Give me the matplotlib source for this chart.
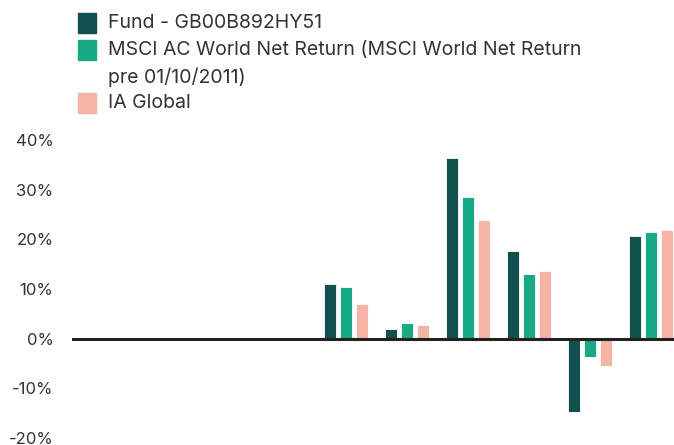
import numpy as np
import matplotlib.pyplot as plt
from matplotlib.patches import Rectangle

# annual returns (%) - the first four periods have no data
periods = list(range(10))
fund = [np.nan, np.nan, np.nan, np.nan, 11.1, 1.9, 36.4, 17.6, -14.7, 20.6]
msci = [np.nan, np.nan, np.nan, np.nan, 10.4, 3.2, 28.5, 13.0, -3.7, 21.5]
ia_global = [np.nan, np.nan, np.nan, np.nan, 6.9, 2.7, 23.8, 13.7, -5.6, 21.9]

labels = ["Fund - GB00B892HY51",
          "MSCI AC World Net Return (MSCI World Net Return\npre 01/10/2011)",
          "IA Global"]
colors = ["#124f4f", "#17aa85", "#f6b4a6"]
yticks = [-20, -10, 0, 10, 20, 30, 40]

plt.rcParams['font.family'] = ['Inter', 'DejaVu Sans']
W, H = 674, 445
fig = plt.figure(figsize=(W / 100, H / 100), dpi=100)
ax = fig.add_axes([71.5 / W, 7 / H, 610 / W, 298 / H])

x = np.arange(len(periods))
step = 16 / 61
bw = 12 / 61
for i, (vals, c) in enumerate(zip([fund, msci, ia_global], colors)):
    ax.bar(x + (i - 1) * step, vals, width=bw, color=c,
           edgecolor='white', linewidth=0.6, zorder=2)

ax.axhline(0, color='#222222', linewidth=2.2, zorder=3)
ax.set_xlim(-0.5, len(periods) - 0.5)
ax.set_ylim(-20, 40)
ax.set_yticks(yticks)
ax.set_yticklabels([f"{v}%" for v in yticks], fontsize=12, color='#333333')
ax.tick_params(axis='y', length=0, pad=13)
ax.set_xticks([])
for s in ax.spines.values():
    s.set_visible(False)

# legend drawn by hand (square aligned with first line of each label)
rows = [23, 50, 103]
for lab, c, yc in zip(labels, colors, rows):
    fig.patches.append(Rectangle((78 / W, 1 - (yc + 10) / H), 18 / W, 20 / H,
                                 transform=fig.transFigure, color=c))
    for k, line in enumerate(lab.split("\n")):
        fig.text(108 / W, 1 - (yc + k * 27) / H, line, fontsize=14,
                 color='#333333', va='center', ha='left')

fig.savefig("out.png", dpi=100)
